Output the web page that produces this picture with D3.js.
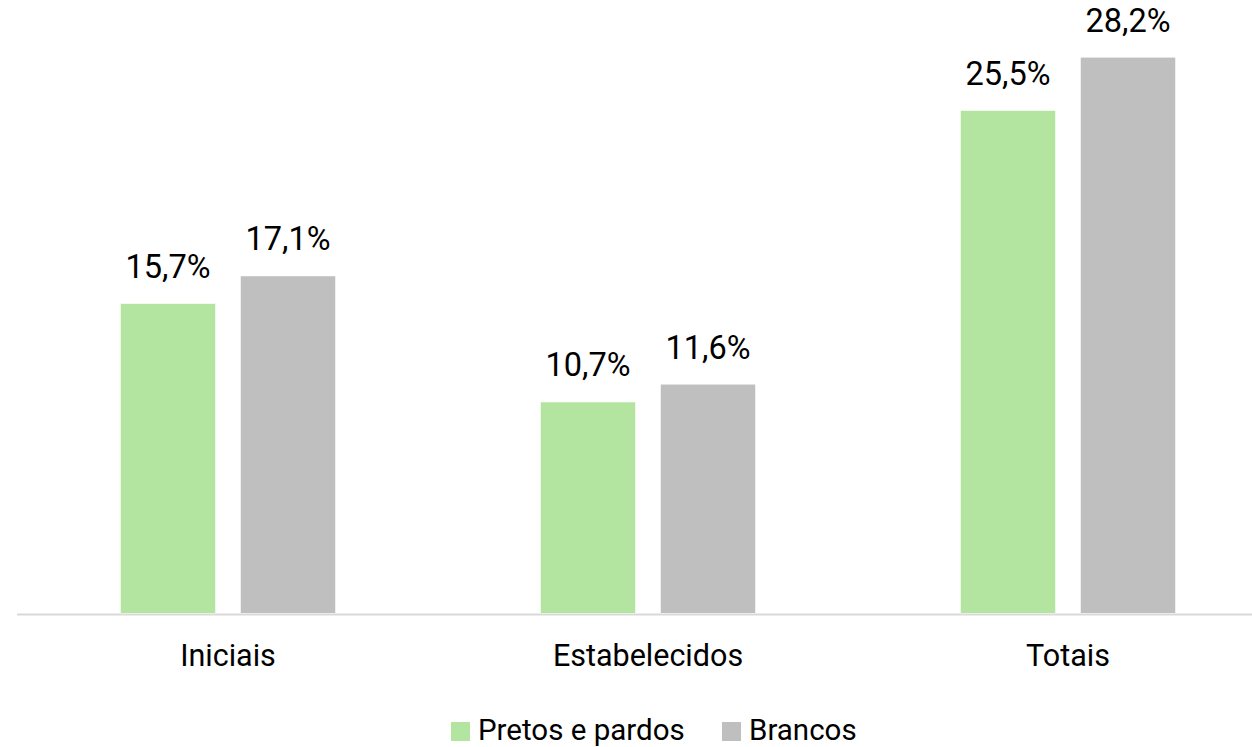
<!DOCTYPE html>
<html><head><meta charset="utf-8">
<script src="https://cdn.jsdelivr.net/npm/d3@7"></script>
<style>body{margin:0;background:#fff}svg{display:block}text{font-family:Roboto,"Open Sans",sans-serif;fill:#000}</style>
</head><body>
<script>
const categories = ["Iniciais", "Estabelecidos", "Totais"];
const seriesNames = ["Pretos e pardos", "Brancos"];
const pretos = [15.7, 10.7, 25.5];
const brancos = [17.1, 11.6, 28.2];
const colors = ["#b3e5a1", "#bfbfbf"];

const W = 1252, H = 747;
const svg = d3.select("body").append("svg").attr("width", W).attr("height", H);
const base = 613;
const x = d3.scaleBand().domain(categories).range([18, 1278]).paddingInner(0).paddingOuter(0);
const xs = d3.scaleBand().domain(seriesNames).range([0, 214.5]).paddingInner(0.2125);
const y = d3.scaleLinear().domain([0, 28.2]).range([base, 57.6]);
const fmt = v => d3.format(".1f")(v).replace(".", ",") + "%";

const rows = categories.map((c, i) => ({c, vals: [pretos[i], brancos[i]]}));
const g = svg.append("g");
rows.forEach(r => {
  const off = x(r.c) + (x.bandwidth() - 214.5) / 2;
  r.vals.forEach((v, j) => {
    const bx = off + xs(seriesNames[j]);
    g.append("rect").attr("x", bx).attr("y", y(v)).attr("width", xs.bandwidth())
      .attr("height", base - y(v)).attr("fill", colors[j]);
    g.append("text").attr("x", bx + xs.bandwidth() / 2).attr("y", y(v) - 26)
      .attr("text-anchor", "middle").style("font-size", "32.5px").text(fmt(v));
  });
});
svg.append("line").attr("x1", 17).attr("x2", W).attr("y1", base + 1.5).attr("y2", base + 1.5)
  .attr("stroke", "#d9d9d9").attr("stroke-width", 2);
const ax = d3.axisBottom(x).tickSize(0).tickPadding(0);
const axg = svg.append("g").attr("transform", `translate(0,${base})`).call(ax);
axg.select(".domain").remove();
axg.selectAll("text").attr("dy", null).attr("y", 53).style("font-size", "30.5px").style("font-family", "Roboto").attr("fill", "#000");

// legend
const leg = svg.append("g");
const items = [{n: seriesNames[0], c: colors[0], x: 451}, {n: seriesNames[1], c: colors[1], x: 722}];
items.forEach(it => {
  leg.append("rect").attr("x", it.x).attr("y", 722).attr("width", 19).attr("height", 19).attr("fill", it.c);
  leg.append("text").attr("x", it.x + 27).attr("y", 740).style("font-size", "29.5px").text(it.n);
});
</script>
</body></html>
